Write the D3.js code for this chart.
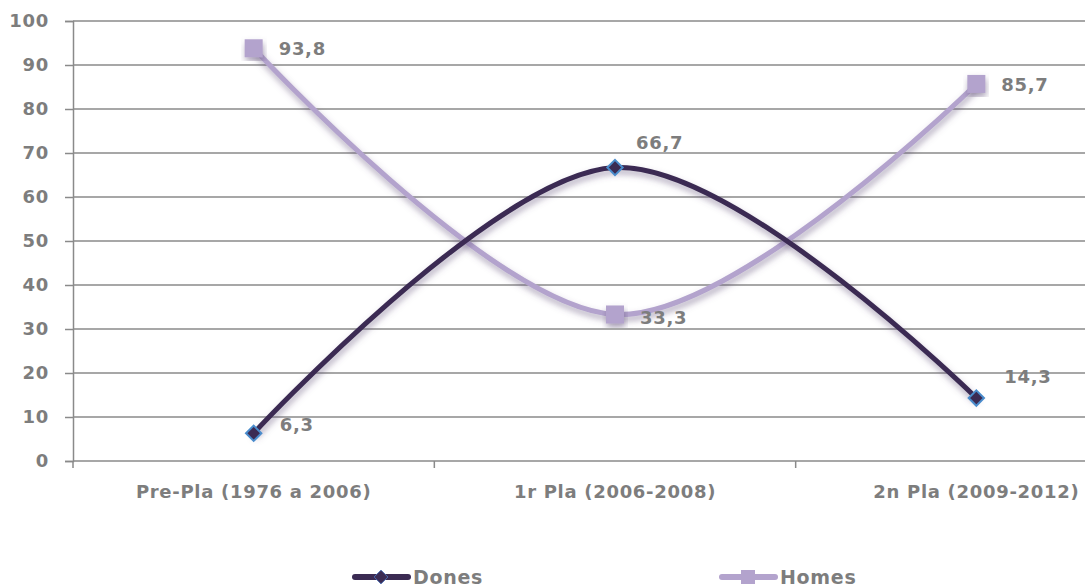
<!DOCTYPE html>
<html>
<head>
<meta charset="utf-8">
<script src="https://cdn.jsdelivr.net/npm/d3@7"></script>
<style>
  html, body { margin: 0; padding: 0; background: #ffffff; }
  svg { display: block; }
  text { font-family: "DejaVu Sans", Verdana, sans-serif; font-weight: bold; fill: #7d7d7d; letter-spacing: 0.7px; }
</style>
</head>
<body>
<svg id="chart" width="1088" height="588"></svg>
<script>
// Periods compared
const categories = ["Pre-Pla (1976 a 2006)", "1r Pla (2006-2008)", "2n Pla (2009-2012)"];
// Percentages per period
const dones = [6.3, 66.7, 14.3];
const homes = [93.8, 33.3, 85.7];
const seriesNames = ["Dones", "Homes"];
// Y axis ticks
const yTicks = [0, 10, 20, 30, 40, 50, 60, 70, 80, 90, 100];

const fmt = v => v.toFixed(1).replace(".", ",");

const svg = d3.select("#chart");
const M = { left: 73, top: 21, bottom: 461, plotRight: 1157, gridRight: 1085 };
const fs = "18px";

const x = d3.scaleBand().domain(categories).range([M.left, M.plotRight]);
const y = d3.scaleLinear().domain([0, 100]).range([M.bottom, M.top]);
const cx = c => x(c) + x.bandwidth() / 2;

// Soft drop shadow under the lines and markers
const defs = svg.append("defs");
const sh = defs.append("filter").attr("id", "shadow")
  .attr("x", "-20%").attr("y", "-20%").attr("width", "140%").attr("height", "140%");
sh.append("feDropShadow").attr("dx", 1).attr("dy", 4).attr("stdDeviation", 3)
  .attr("flood-color", "#5e4e78").attr("flood-opacity", 0.5);

// Horizontal gridlines + y axis
const yAxis = d3.axisLeft(y).tickValues(yTicks).tickSize(8).tickPadding(16);
const gy = svg.append("g").attr("transform", `translate(${M.left},0)`).call(yAxis);
gy.select(".domain").attr("stroke", "#8a8a8a").attr("stroke-width", 1.5);
gy.selectAll(".tick line").attr("stroke", "#8a8a8a").attr("stroke-width", 1.5);
gy.selectAll(".tick text").style("font-size", fs).attr("fill", "#7d7d7d");

svg.append("g").selectAll("line").data(yTicks.filter(d => d > 0)).join("line")
  .attr("x1", M.left).attr("x2", M.gridRight)
  .attr("y1", d => y(d)).attr("y2", d => y(d))
  .attr("stroke", "#8a8a8a").attr("stroke-width", 1.5);

// X axis
const xAxis = d3.axisBottom(x).tickSize(0).tickPadding(24);
const gx = svg.append("g").attr("transform", `translate(0,${M.bottom})`).call(xAxis);
gx.select(".domain").remove();
gx.selectAll(".tick text").style("font-size", fs).attr("fill", "#7d7d7d");
svg.append("line").attr("x1", M.left).attr("x2", M.gridRight).attr("y1", M.bottom).attr("y2", M.bottom)
  .attr("stroke", "#8a8a8a").attr("stroke-width", 1.5);
svg.append("g").selectAll("line").data(categories).join("line")
  .attr("x1", d => x(d)).attr("x2", d => x(d))
  .attr("y1", M.bottom).attr("y2", M.bottom + 7)
  .attr("stroke", "#8a8a8a").attr("stroke-width", 1.5);

const line = d3.line().curve(d3.curveCardinal.tension(0))
  .x((d, i) => cx(categories[i])).y(d => y(d));

const colDones = "#3b2b53", colHomes = "#b3a3cd";

// Homes line (drawn first)
svg.append("path").datum(homes).attr("d", line)
  .attr("fill", "none").attr("stroke", colHomes).attr("stroke-width", 5)
  .attr("filter", "url(#shadow)");
// Dones line
svg.append("path").datum(dones).attr("d", line)
  .attr("fill", "none").attr("stroke", colDones).attr("stroke-width", 5)
  .attr("filter", "url(#shadow)");

// Markers
const sq = 18;
svg.append("g").selectAll("rect").data(homes).join("rect")
  .attr("x", (d, i) => cx(categories[i]) - sq / 2)
  .attr("y", d => y(d) - sq / 2)
  .attr("width", sq).attr("height", sq)
  .attr("fill", colHomes).attr("filter", "url(#shadow)");

const diamond = d3.symbol().type(d3.symbolDiamond2).size(150);
svg.append("g").selectAll("path").data(dones).join("path")
  .attr("d", diamond)
  .attr("transform", (d, i) => `translate(${cx(categories[i])},${y(d)})`)
  .attr("fill", colDones).attr("stroke", "#4a8ccc").attr("stroke-width", 2);

// Value labels
const donesOffsets = [[26, -9], [21, -25], [28, -21]];
const homesOffsets = [[25, 0], [25, 3], [25, 1]];
svg.append("g").selectAll("text").data(dones).join("text")
  .attr("x", (d, i) => cx(categories[i]) + donesOffsets[i][0])
  .attr("y", (d, i) => y(d) + donesOffsets[i][1])
  .attr("dy", "0.35em").style("font-size", fs)
  .text(fmt);
svg.append("g").selectAll("text").data(homes).join("text")
  .attr("x", (d, i) => cx(categories[i]) + homesOffsets[i][0])
  .attr("y", (d, i) => y(d) + homesOffsets[i][1])
  .attr("dy", "0.35em").style("font-size", fs)
  .text(fmt);

// Legend
const legend = svg.append("g");
const lgY = 577;
const items = [
  { name: seriesNames[0], x0: 353, color: colDones, marker: "diamond" },
  { name: seriesNames[1], x0: 720, color: colHomes, marker: "square" }
];
items.forEach(it => {
  legend.append("line").attr("x1", it.x0 + 2).attr("x2", it.x0 + 55)
    .attr("y1", lgY).attr("y2", lgY)
    .attr("stroke", it.color).attr("stroke-width", 6).attr("stroke-linecap", "round");
  if (it.marker === "diamond") {
    legend.append("path").attr("d", d3.symbol().type(d3.symbolDiamond2).size(120))
      .attr("transform", `translate(${it.x0 + 28},${lgY})`)
      .attr("fill", colDones).attr("stroke", "#4a6cb0").attr("stroke-width", 1);
  } else {
    legend.append("rect").attr("x", it.x0 + 21).attr("y", lgY - 7)
      .attr("width", 14).attr("height", 14).attr("fill", it.color);
  }
  legend.append("text").attr("x", it.x0 + 60).attr("y", lgY).attr("dy", "0.35em")
    .style("font-size", "19px").text(it.name);
});
</script>
</body>
</html>
